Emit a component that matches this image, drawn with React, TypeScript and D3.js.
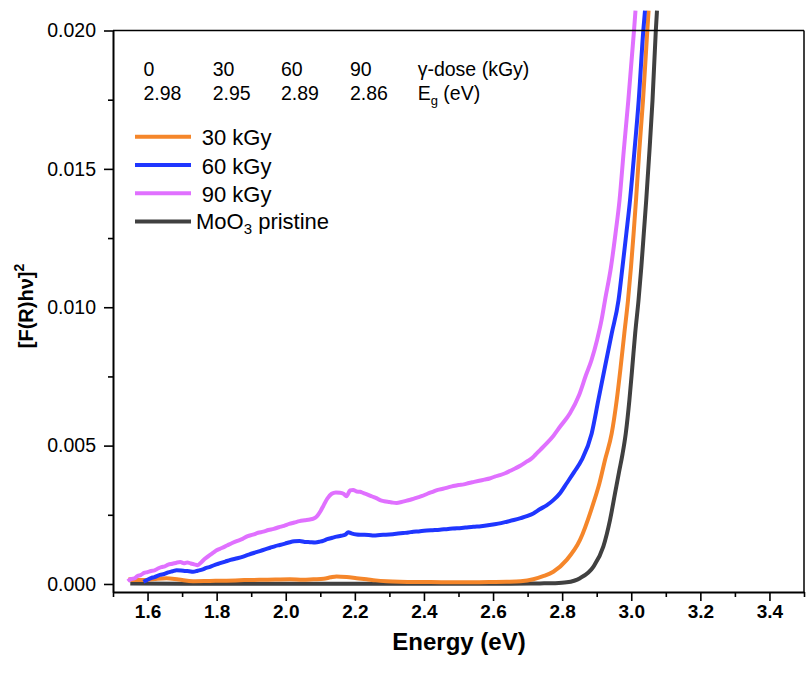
import React, { useEffect, useRef } from 'react';
import * as d3 from 'd3';

// 30 kGy
const e30 = [1.544, 1.565, 1.588, 1.62, 1.655, 1.69, 1.732, 1.78, 1.829, 1.88, 1.93, 1.97, 2.012, 2.05, 2.08, 2.11, 2.13, 2.147, 2.176, 2.205, 2.234, 2.26, 2.292, 2.33, 2.369, 2.42, 2.48, 2.54, 2.6, 2.64, 2.68, 2.7165, 2.745, 2.7744, 2.8132, 2.8517, 2.8902, 2.9081, 2.924, 2.9434, 2.9579, 2.9694, 2.9799, 2.9906, 2.9993, 3.0068, 3.0137, 3.0233, 3.034, 3.0465, 3.0502];
const v30 = [0.00017, 0.00014, 0.00014, 0.00018, 0.00021, 0.00016, 0.0001, 0.00011, 0.00012, 0.00014, 0.00015, 0.00016, 0.00017, 0.00015, 0.00017, 0.00019, 0.00024, 0.00027, 0.00025, 0.00021, 0.00017, 0.00013, 0.0001, 0.00008, 0.00007, 0.00007, 0.00006, 0.00006, 0.00007, 0.00008, 0.0001, 0.00017, 0.00028, 0.00044, 0.00087, 0.00159, 0.00291, 0.00365, 0.00448, 0.00544, 0.00664, 0.00785, 0.00905, 0.01025, 0.01146, 0.01266, 0.01386, 0.01567, 0.01747, 0.02, 0.02072];

// 60 kGy
const e60 = [1.588, 1.598, 1.61, 1.62, 1.636, 1.648, 1.66, 1.672, 1.684, 1.697, 1.71, 1.72, 1.732, 1.745, 1.76, 1.77, 1.781, 1.795, 1.81, 1.825, 1.84, 1.86, 1.877, 1.893, 1.91, 1.925, 1.94, 1.955, 1.97, 1.983, 1.998, 2.012, 2.025, 2.04, 2.055, 2.07, 2.085, 2.099, 2.11, 2.12, 2.135, 2.147, 2.16, 2.172, 2.181, 2.19, 2.205, 2.22, 2.24, 2.255, 2.273, 2.29, 2.31, 2.325, 2.34, 2.355, 2.369, 2.385, 2.4, 2.42, 2.446, 2.47, 2.495, 2.52, 2.543, 2.565, 2.59, 2.615, 2.64, 2.66, 2.68, 2.7, 2.7165, 2.735, 2.755, 2.7744, 2.795, 2.8132, 2.835, 2.8566, 2.8855, 2.9047, 2.924, 2.9434, 2.9631, 2.9747, 2.9857, 2.9964, 3.0094, 3.0216, 3.0349, 3.0398];
const v60 = [0.00008, 0.00014, 0.00021, 0.00025, 0.00033, 0.00036, 0.00042, 0.00046, 0.0005, 0.00049, 0.00047, 0.00046, 0.00044, 0.00048, 0.00053, 0.00058, 0.00062, 0.00069, 0.00075, 0.00081, 0.00087, 0.00093, 0.00099, 0.00106, 0.00113, 0.00119, 0.00125, 0.00131, 0.00137, 0.00141, 0.00146, 0.00151, 0.00154, 0.00155, 0.00152, 0.00151, 0.0015, 0.00153, 0.00157, 0.00162, 0.00167, 0.00171, 0.00174, 0.00178, 0.00187, 0.00183, 0.00179, 0.00178, 0.00177, 0.00175, 0.00177, 0.00178, 0.0018, 0.00182, 0.00184, 0.00186, 0.00189, 0.0019, 0.00192, 0.00194, 0.00196, 0.00199, 0.00201, 0.00204, 0.00207, 0.00209, 0.00213, 0.00218, 0.00225, 0.00231, 0.00238, 0.00246, 0.00255, 0.0027, 0.00284, 0.00303, 0.0033, 0.00364, 0.00405, 0.00448, 0.00544, 0.00664, 0.00785, 0.00905, 0.01025, 0.01146, 0.01266, 0.01386, 0.01567, 0.01747, 0.02, 0.02072];

// 90 kGy
const e90 = [1.543, 1.552, 1.562, 1.571, 1.58, 1.59, 1.6, 1.61, 1.62, 1.63, 1.64, 1.65, 1.66, 1.672, 1.684, 1.695, 1.705, 1.715, 1.725, 1.735, 1.745, 1.755, 1.765, 1.78, 1.79, 1.8, 1.815, 1.83, 1.845, 1.86, 1.875, 1.89, 1.905, 1.92, 1.935, 1.95, 1.965, 1.98, 1.995, 2.01, 2.025, 2.04, 2.055, 2.07, 2.08, 2.09, 2.1, 2.11, 2.12, 2.133, 2.145, 2.157, 2.167, 2.176, 2.186, 2.195, 2.205, 2.215, 2.224, 2.235, 2.25, 2.262, 2.273, 2.285, 2.3, 2.31, 2.321, 2.335, 2.35, 2.365, 2.38, 2.395, 2.41, 2.425, 2.44, 2.455, 2.47, 2.485, 2.5, 2.515, 2.53, 2.545, 2.56, 2.575, 2.59, 2.605, 2.62, 2.635, 2.65, 2.665, 2.68, 2.697, 2.71, 2.722, 2.736, 2.755, 2.775, 2.7937, 2.8227, 2.8488, 2.869, 2.8849, 2.9009, 2.9139, 2.924, 2.9414, 2.9544, 2.966, 2.9784, 2.9915, 3.008, 3.0123];
const v90 = [0.0001, 0.00018, 0.0002, 0.00029, 0.00032, 0.0004, 0.00043, 0.00047, 0.00049, 0.00056, 0.00061, 0.00064, 0.0007, 0.00073, 0.00077, 0.00079, 0.00075, 0.00078, 0.00074, 0.00071, 0.00068, 0.00078, 0.0009, 0.00104, 0.00113, 0.00122, 0.0013, 0.00139, 0.00148, 0.00156, 0.00163, 0.00173, 0.00178, 0.00185, 0.00189, 0.00195, 0.00199, 0.00205, 0.0021, 0.00217, 0.00222, 0.00227, 0.0023, 0.00233, 0.00236, 0.00244, 0.00262, 0.00285, 0.00308, 0.00326, 0.00331, 0.0033, 0.00326, 0.00317, 0.00338, 0.0034, 0.00334, 0.00333, 0.00329, 0.00324, 0.00316, 0.0031, 0.00303, 0.00299, 0.00296, 0.00294, 0.00293, 0.00296, 0.00301, 0.00306, 0.00312, 0.00318, 0.00326, 0.00333, 0.0034, 0.00344, 0.00349, 0.00354, 0.00358, 0.0036, 0.00365, 0.00369, 0.00373, 0.00377, 0.00381, 0.00388, 0.00393, 0.004, 0.00409, 0.00418, 0.00428, 0.00442, 0.00452, 0.00466, 0.00484, 0.00508, 0.00536, 0.00568, 0.00617, 0.00682, 0.00755, 0.00809, 0.00881, 0.00953, 0.01025, 0.01146, 0.01266, 0.01386, 0.01567, 0.01747, 0.02, 0.02072];

// MoO3 pristine
const e0 = [1.55, 1.8, 2.1, 2.4, 2.65, 2.7359, 2.78, 2.8132, 2.8517, 2.8902, 2.9191, 2.9385, 2.953, 2.9646, 2.9747, 2.9842, 2.9946, 3.003, 3.0114, 3.021, 3.0291, 3.0363, 3.0433, 3.0528, 3.0615, 3.0711, 3.0745];
const v0 = [0.00002, 0.00001, 0.00001, 0.00001, 0.00001, 0.00002, 0.00003, 0.00006, 0.00021, 0.00062, 0.00135, 0.00231, 0.00327, 0.00404, 0.00469, 0.00545, 0.00664, 0.00783, 0.00906, 0.01025, 0.01144, 0.01267, 0.01386, 0.01567, 0.01747, 0.02, 0.02072];

const series = [
    { name: 'MoO3 pristine', e: e0, v: v0, color: '#404040' },
    { name: '30 kGy', e: e30, v: v30, color: '#F5862A' },
    { name: '60 kGy', e: e60, v: v60, color: '#1F36FF' },
    { name: '90 kGy', e: e90, v: v90, color: '#E070FF' },
];

const doses = ['0', '30', '60', '90'];
const gaps = ['2.98', '2.95', '2.89', '2.86'];

const xMajor = [1.6, 1.8, 2.0, 2.2, 2.4, 2.6, 2.8, 3.0, 3.2, 3.4];
const xMinor = [1.5, 1.7, 1.9, 2.1, 2.3, 2.5, 2.7, 2.9, 3.1, 3.3, 3.5];
const yMajor = [0, 0.005, 0.01, 0.015, 0.02];
const yMinor = [0.0025, 0.0075, 0.0125, 0.0175];

const W = 811;
const H = 675;
const left = 113;
const right = 804;
const top = 30.5;
const bottom = 592;
const font = '"Liberation Sans", Arial, sans-serif';

export default function App() {
    const svgRef = useRef<SVGSVGElement>(null);

    useEffect(() => {
        const svg = d3.select(svgRef.current);
        svg.selectAll('*').remove();

        const x = d3.scaleLinear().domain([1.5, 3.5]).range([left, right]);
        const y = d3.scaleLinear().domain([-0.00029, 0.02]).range([bottom, top]);

        svg.append('clipPath').attr('id', 'plotClip')
            .append('rect')
            .attr('x', left).attr('y', 8)
            .attr('width', right - left).attr('height', bottom - 8);

        const line = d3.line<[number, number]>()
            .x(d => x(d[0]))
            .y(d => y(d[1]))
            .curve(d3.curveMonotoneX);

        const g = svg.append('g').attr('clip-path', 'url(#plotClip)');
        series.forEach(s => {
            const pts = s.e.map((e, i) => [e, s.v[i]] as [number, number]);
            g.append('path')
                .attr('d', line(pts))
                .attr('fill', 'none')
                .attr('stroke', s.color)
                .attr('stroke-width', 4)
                .attr('stroke-linejoin', 'round');
        });

        // frame
        svg.append('line').attr('x1', left).attr('x2', right).attr('y1', top).attr('y2', top)
            .attr('stroke', '#000').attr('stroke-width', 1.5);
        svg.append('line').attr('x1', right).attr('x2', right).attr('y1', top).attr('y2', bottom)
            .attr('stroke', '#000').attr('stroke-width', 1.5);

        // x axis
        const xAxis = svg.append('g').attr('transform', `translate(0, ${bottom})`)
            .call(d3.axisBottom(x).tickValues(xMajor).tickSize(9).tickPadding(4).tickSizeOuter(0).tickFormat(d3.format('.1f')));
        svg.append('g').attr('transform', `translate(0, ${bottom})`)
            .call(d3.axisBottom(x).tickValues(xMinor).tickSize(5).tickSizeOuter(0).tickFormat(() => ''))
            .select('.domain').remove();
        xAxis.select('.domain').attr('stroke-width', 2);
        xAxis.selectAll('text')
            .attr('font-family', font).attr('font-size', 19).attr('font-weight', 'bold').attr('fill', '#000');

        // y axis
        const yAxis = svg.append('g').attr('transform', `translate(${left}, 0)`)
            .call(d3.axisLeft(y).tickValues(yMajor).tickSize(9).tickPadding(8).tickSizeOuter(0).tickFormat(d3.format('.3f')));
        svg.append('g').attr('transform', `translate(${left}, 0)`)
            .call(d3.axisLeft(y).tickValues(yMinor).tickSize(5).tickSizeOuter(0).tickFormat(() => ''))
            .select('.domain').remove();
        yAxis.select('.domain').attr('stroke-width', 2);
        yAxis.selectAll('text')
            .attr('font-family', font).attr('font-size', 19.5).attr('fill', '#000');
        svg.selectAll('.tick line').attr('stroke-width', 1.6);

        // axis titles
        svg.append('text')
            .attr('x', 459).attr('y', 650)
            .attr('text-anchor', 'middle')
            .attr('font-family', font).attr('font-size', 24).attr('font-weight', 'bold')
            .text('Energy (eV)');

        const yt = svg.append('text')
            .attr('transform', 'translate(33, 306) rotate(-90)')
            .attr('text-anchor', 'middle')
            .attr('font-family', font).attr('font-size', 20).attr('font-weight', 'bold');
        yt.append('tspan').text('[F(R)h\u03bd]');
        yt.append('tspan').attr('font-size', 14).attr('dy', -9).text('2');

        // dose / band gap table
        const cols = [143.5, 212.7, 281, 350];
        const tbl = svg.append('g').attr('font-family', font).attr('font-size', 19.5);
        doses.forEach((d, i) => {
            tbl.append('text').attr('x', cols[i]).attr('y', 76).text(d);
            tbl.append('text').attr('x', cols[i]).attr('y', 99.5).text(gaps[i]);
        });
        tbl.append('text').attr('x', 417.7).attr('y', 76).text('\u03b3-dose (kGy)');
        const eg = tbl.append('text').attr('x', 417.7).attr('y', 99.5);
        eg.append('tspan').text('E');
        eg.append('tspan').attr('font-size', 13).attr('dy', 5).text('g');
        eg.append('tspan').attr('dy', -5).text(' (eV)');

        // legend
        const legendOrder = [1, 2, 3, 0];
        const lg = svg.append('g').attr('font-family', font).attr('font-size', 22);
        legendOrder.forEach((si, i) => {
            const s = series[si];
            const ly = 136.8 + i * 28.2;
            lg.append('line')
                .attr('x1', 135).attr('x2', 191).attr('y1', ly).attr('y2', ly)
                .attr('stroke', s.color).attr('stroke-width', 4);
            if (si === 0) {
                const t = lg.append('text').attr('x', 196).attr('y', ly + 7.8);
                t.append('tspan').text('MoO');
                t.append('tspan').attr('font-size', 15).attr('dy', 5).text('3');
                t.append('tspan').attr('dy', -5).text(' pristine');
            } else {
                lg.append('text').attr('x', 201.7).attr('y', ly + 8.5).text(s.name);
            }
        });
    }, []);

    return (
        <svg ref={svgRef} width={W} height={H}
            style={{ position: 'absolute', left: 0, top: 0, background: '#fff' }} />
    );
}
